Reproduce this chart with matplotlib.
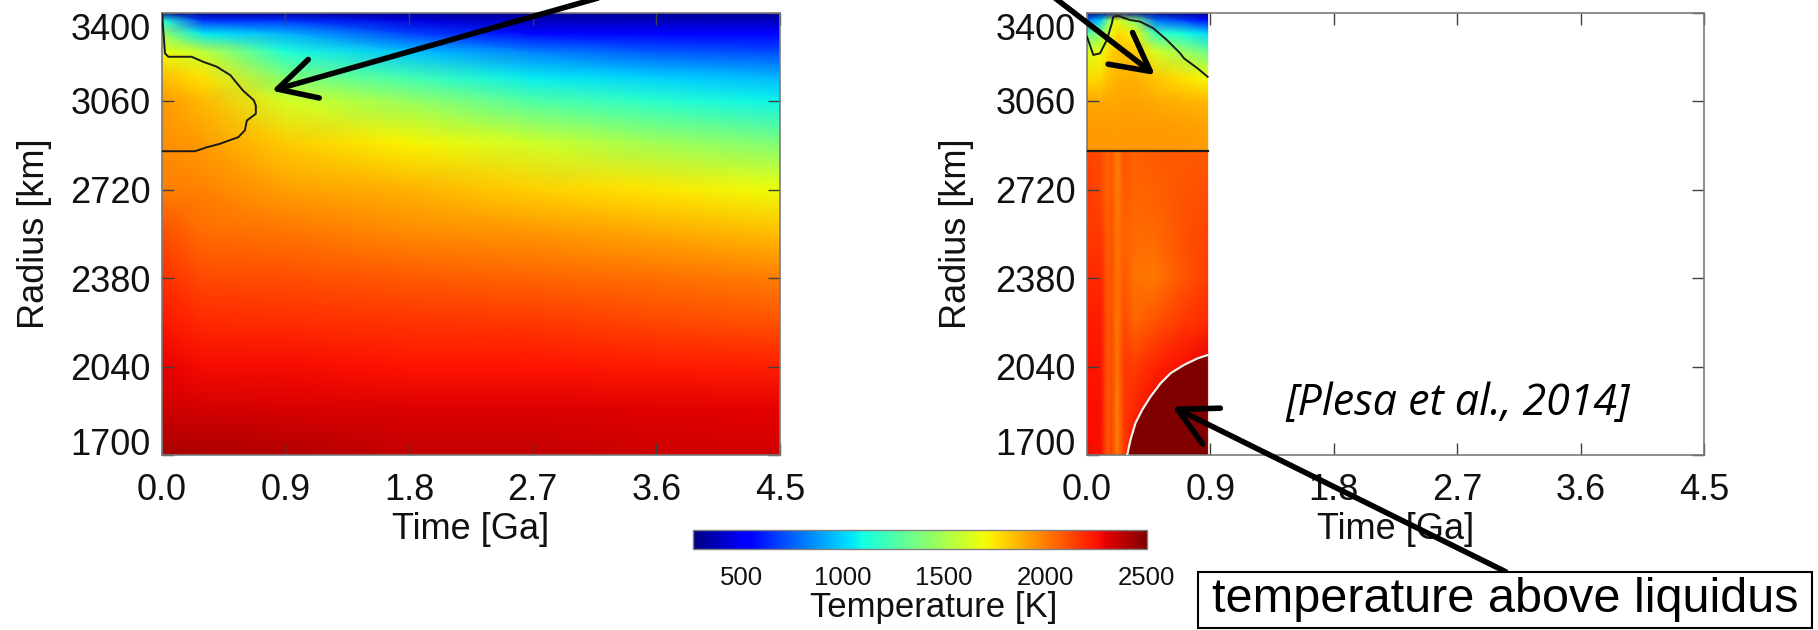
import numpy as np
import matplotlib
matplotlib.use("Agg")
import matplotlib.pyplot as plt
from matplotlib.colors import Normalize
from matplotlib.cm import ScalarMappable
from matplotlib.patches import Rectangle

plt.rcParams['font.family'] = ['Liberation Sans', 'DejaVu Sans']

# ---------------- data ----------------
radius_ticks = [1700, 2040, 2380, 2720, 3060, 3400]
time_ticks = [0.0, 0.9, 1.8, 2.7, 3.6, 4.5]
cbar_ticks = [500, 1000, 1500, 2000, 2500]
temp_min, temp_max = 260, 2500

# Left panel: temperature [K], one list per time, values along left_radius
left_time = [0.0, 0.3, 0.9, 1.8, 2.7, 3.6, 4.5]
left_radius = [1700, 1870, 2040, 2210, 2380, 2550, 2720, 2900, 3060, 3150, 3250, 3320, 3370, 3400]
left_temp_cols = [
    [2420, 2350, 2290, 2240, 2180, 2110, 2000, 1960, 1936, 1850, 1700, 1450, 1150, 300],  # 0.0
    [2410, 2340, 2270, 2200, 2120, 2040, 1990, 1930, 1860, 1760, 1560, 1050, 650, 300],   # 0.3
    [2400, 2330, 2270, 2190, 2110, 2020, 1920, 1810, 1620, 1400, 1130, 930, 650, 300],    # 0.9
    [2360, 2320, 2250, 2170, 2080, 1970, 1870, 1720, 1450, 1230, 960, 680, 450, 300],     # 1.8
    [2360, 2320, 2250, 2160, 2060, 1940, 1800, 1600, 1260, 1060, 820, 550, 380, 300],     # 2.7
    [2350, 2310, 2235, 2130, 2030, 1900, 1750, 1480, 1160, 1000, 740, 530, 380, 300],     # 3.6
    [2340, 2300, 2220, 2100, 1995, 1850, 1690, 1380, 1080, 950, 700, 530, 390, 300],      # 4.5
]
left_solidus_time = [0.0, 0.004, 0.024, 0.048, 0.218, 0.30, 0.40, 0.50, 0.59, 0.67,
                     0.685, 0.685, 0.62, 0.605, 0.557, 0.42, 0.327, 0.242, 0.0]
left_solidus_radius = [3400, 3385, 3243, 3230, 3230, 3211, 3192, 3159, 3101, 3063,
                       3043, 3011, 2985, 2947, 2921, 2895, 2882, 2867, 2867]

# Right panel
right_time = [0.0, 0.1, 0.15, 0.18, 0.22, 0.27, 0.35, 0.5, 0.7, 0.88]
right_radius = [1700, 1870, 2040, 2210, 2380, 2550, 2720, 2866, 2870, 2970, 3060, 3150, 3250, 3320, 3370, 3400]
right_temp_cols = [
    [2270, 2260, 2250, 2230, 2200, 2160, 2150, 2140, 1936, 1925, 1900, 1770, 1620, 1300, 800, 300],   # 0.0
    [2260, 2260, 2250, 2230, 2200, 2160, 2130, 2120, 1936, 1925, 1890, 1790, 1680, 1400, 1000, 300],  # 0.1
    [2080, 2080, 2080, 2080, 2080, 2070, 2060, 2060, 1936, 1925, 1900, 1840, 1760, 1600, 1350, 300],  # 0.15
    [2140, 2130, 2120, 2110, 2110, 2100, 2090, 2090, 1936, 1925, 1900, 1850, 1800, 1700, 1550, 300],  # 0.18
    [2000, 2000, 2010, 2010, 2010, 2010, 2000, 2000, 1936, 1920, 1900, 1870, 1830, 1780, 1650, 300],  # 0.22
    [2150, 2150, 2160, 2120, 2080, 2070, 2080, 2090, 1936, 1925, 1905, 1870, 1840, 1760, 1550, 300],  # 0.27
    [2300, 2210, 2150, 2060, 2026, 2040, 2056, 2068, 1936, 1925, 1910, 1880, 1820, 1700, 1400, 300],  # 0.35
    [2300, 2280, 2215, 2100, 2010, 2050, 2070, 2080, 1936, 1924, 1890, 1820, 1620, 1200, 800, 300],   # 0.5
    [2300, 2300, 2260, 2160, 2090, 2100, 2095, 2085, 1936, 1915, 1875, 1760, 1470, 1100, 680, 300],   # 0.7
    [2300, 2300, 2300, 2200, 2147, 2140, 2110, 2080, 1936, 1905, 1860, 1700, 1330, 1020, 560, 300],   # 0.88
]
right_solidus_time = [0.0, 0.046, 0.095, 0.144, 0.181, 0.192, 0.229, 0.315, 0.388,
                      0.485, 0.583, 0.68, 0.707, 0.805, 0.88]
right_solidus_radius = [3307, 3237, 3243, 3294, 3358, 3384, 3387, 3371, 3365,
                        3339, 3294, 3243, 3224, 3186, 3153]
crust_time = [0.0, 0.88]
crust_radius = [2868, 2868]
liquidus_time = [0.293, 0.317, 0.353, 0.402, 0.463, 0.536, 0.609, 0.707, 0.805, 0.88]
liquidus_radius = [1700, 1758, 1822, 1873, 1924, 1975, 2014, 2046, 2071, 2084]

# ---------------- figure ----------------
W, H = 1818, 630
fig = plt.figure(figsize=(W / 100, H / 100), dpi=100)
cmap = plt.get_cmap('jet')
norm = Normalize(temp_min, temp_max)


def ax_rect(x0, x1, y_top, y_bot):
    return [x0 / W, 1 - y_bot / H, (x1 - x0) / W, (y_bot - y_top) / H]


axL = fig.add_axes(ax_rect(161.7, 780, 12.5, 455))
axR = fig.add_axes(ax_rect(1087, 1704, 12.5, 455))


def style_axes(ax, label_x):
    ax.set_xlim(0, 4.5)
    ax.set_ylim(1700, 3400)
    ax.set_xticks(time_ticks)
    ax.set_xticklabels([f"{v:.1f}" for v in time_ticks])
    ax.set_yticks(radius_ticks)
    ax.set_yticklabels([str(v) for v in radius_ticks])
    ax.tick_params(direction='in', length=8.5, width=1.0, color='#404040',
                   labelcolor='#111111', labelsize=26, top=True, right=True)
    ax.tick_params(axis='x', pad=13)
    ax.tick_params(axis='y', pad=8)
    for sp in ax.spines.values():
        sp.set_color('#7a7a7a')
        sp.set_linewidth(1.2)
    labs = ax.get_yticklabels()
    labs[0].set_va('baseline')
    labs[-1].set_va('top')
    ax.set_xlabel('Time [Ga]', fontsize=26, color='#111111')
    ax.xaxis.label.set_va('baseline')
    ax.xaxis.set_label_coords(0.5, -(539 - 455) / 442.5)
    ax.set_ylabel('Radius [km]', fontsize=26, color='#111111')
    ax.yaxis.label.set_va('center')
    ax.yaxis.set_label_coords(label_x, 0.5)


# Left panel field
TL, RL = np.meshgrid(left_time, left_radius)
ZL = np.array(left_temp_cols).T
axL.pcolormesh(TL, RL, ZL, shading='gouraud', cmap=cmap, norm=norm, zorder=1)
axL.plot(left_solidus_time, left_solidus_radius, color='#1a1a1a', lw=1.4, zorder=3)
style_axes(axL, -0.206)

# Right panel field
TR, RR = np.meshgrid(right_time, right_radius)
ZR = np.array(right_temp_cols).T
axR.pcolormesh(TR, RR, ZR, shading='gouraud', cmap=cmap, norm=norm, zorder=1)
fill_t = list(liquidus_time) + [liquidus_time[-1], liquidus_time[0]]
fill_r = list(liquidus_radius) + [1700, 1700]
axR.fill(fill_t, fill_r, color=cmap(1.0), lw=0, zorder=2)
axR.plot(liquidus_time, liquidus_radius, color='#f0f0f0', lw=1.6, zorder=3)
axR.plot(right_solidus_time, right_solidus_radius, color='#1a1a1a', lw=1.4, zorder=3)
axR.plot(crust_time, crust_radius, color='#1a1a1a', lw=1.6, zorder=3)
style_axes(axR, -0.212)

# Colorbar
cax = fig.add_axes(ax_rect(692.7, 1146.7, 530, 549.3))
cb = fig.colorbar(ScalarMappable(norm=norm, cmap=cmap), cax=cax,
                  orientation='horizontal', ticks=cbar_ticks)
cb.ax.tick_params(length=0, labelsize=18.5, pad=12, labelcolor='#111111')
cb.outline.set_edgecolor('#808080')
cb.outline.set_linewidth(1.0)
fig.text(934 / W, 1 - 607.5 / H, 'Temperature [K]', fontsize=25,
         ha='center', va='center', color='#111111')

# Citation
fig.text(1458 / W, 1 - 415 / H, '[Plesa et al., 2014]', fontsize=31,
         family=['Open Sans', 'DejaVu Sans'], style='italic', ha='center', va='baseline')

# Annotation box
fig.add_artist(Rectangle((1198 / W, 2 / H), 614 / W, 56.5 / H, transform=fig.transFigure,
                         facecolor='white', edgecolor='black', lw=1.5, zorder=5))
fig.text(1505 / W, 17.6 / H, 'temperature above liquidus', fontsize=35,
         ha='center', va='baseline', zorder=6)

# Arrows (figure pixel coordinates)
arrow_kw = dict(arrowstyle='->,head_length=0.85,head_width=0.45', lw=4.0,
                color='black', shrinkA=0, shrinkB=0, mutation_scale=32)
fig.add_artist(plt.Annotation('', xy=(271.7, H - 90.7), xytext=(598, H + 2),
                              xycoords='figure pixels', textcoords='figure pixels',
                              arrowprops=arrow_kw, annotation_clip=False))
fig.add_artist(plt.Annotation('', xy=(1155, H - 75), xytext=(1055, H + 2),
                              xycoords='figure pixels', textcoords='figure pixels',
                              arrowprops=arrow_kw, annotation_clip=False))
fig.add_artist(plt.Annotation('', xy=(1172.3, H - 406.7), xytext=(1505.6, H - 571.7),
                              xycoords='figure pixels', textcoords='figure pixels',
                              arrowprops=arrow_kw, annotation_clip=False))

fig.savefig('out.png', dpi=100)
